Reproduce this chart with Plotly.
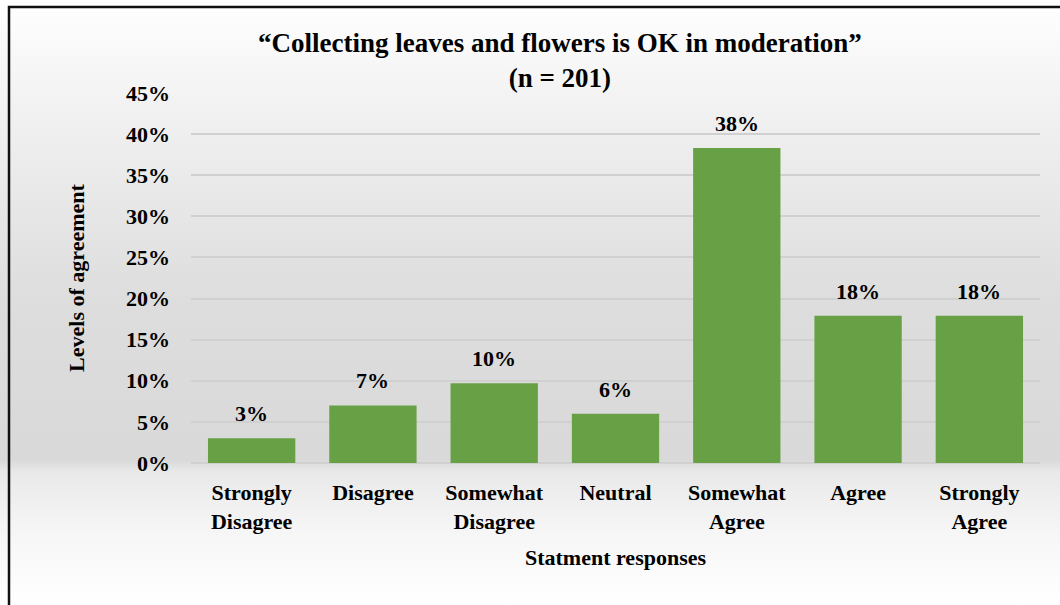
import base64
import plotly.graph_objects as go

# Survey responses (share of respondents, %)
categories = ["Strongly<br>Disagree", "Disagree", "Somewhat<br>Disagree", "Neutral",
              "Somewhat<br>Agree", "Agree", "Strongly<br>Agree"]
percentages = [3.0, 7.0, 9.7, 6.0, 38.3, 17.9, 17.9]
y_ticks = [0, 5, 10, 15, 20, 25, 30, 35, 40, 45]
y_tick_labels = [f"{t}%" for t in y_ticks]

W, H = 1060, 605
ML, MR, MT, MB = 191, 20, 93, 142
PW, PH = W - ML - MR, H - MT - MB

FONT = "Liberation Serif, Times New Roman, serif"
GREEN = "#68A045"
FS = 22

# Vertical grey gradient used as the chart-area background
svg = (
    '<svg xmlns="http://www.w3.org/2000/svg" width="100" height="605" preserveAspectRatio="none">'
    '<defs><linearGradient id="g" x1="0" y1="0" x2="0" y2="1">'
    '<stop offset="0" stop-color="#ffffff"/>'
    '<stop offset="0.17" stop-color="#f2f2f2"/>'
    '<stop offset="0.5" stop-color="#dddddd"/>'
    '<stop offset="0.76" stop-color="#d9d9d9"/>'
    '<stop offset="0.78" stop-color="#e9e9e9"/>'
    '<stop offset="0.88" stop-color="#f6f6f6"/>'
    '<stop offset="1" stop-color="#ffffff"/>'
    '</linearGradient></defs>'
    '<rect width="100" height="605" fill="url(#g)"/></svg>'
)
bg_uri = "data:image/svg+xml;base64," + base64.b64encode(svg.encode()).decode()

fig = go.Figure(
    go.Bar(
        x=categories,
        y=percentages,
        marker=dict(color=GREEN, line=dict(width=0)),
        width=0.72,
        cliponaxis=False,
    )
)

# value labels above each bar
annotations = [
    dict(
        x=cat,
        y=val,
        xref="x",
        yref="y",
        text=f"<b>{val:.0f}%</b>",
        showarrow=False,
        yanchor="bottom",
        yshift=10,
        font=dict(family=FONT, size=FS, color="#000000"),
    )
    for cat, val in zip(categories, percentages)
]

# chart title, positioned in plot-area fractions
annotations.append(
    dict(
        x=(560 - ML) / PW,
        y=1 + (MT - 26) / PH,
        xref="paper",
        yref="paper",
        text="<b>“Collecting leaves and flowers is OK in moderation”<br>(n = 201)</b>",
        showarrow=False,
        xanchor="center",
        yanchor="top",
        font=dict(family=FONT, size=27, color="#000000"),
    )
)

fig.update_layout(
    width=W,
    height=H,
    margin=dict(l=ML, r=MR, t=MT, b=MB),
    paper_bgcolor="#ffffff",
    plot_bgcolor="rgba(0,0,0,0)",
    showlegend=False,
    font=dict(family=FONT, color="#000000"),
    annotations=annotations,
    xaxis=dict(
        showgrid=False,
        showline=False,
        ticks="",
        tickfont=dict(family=FONT, size=FS, color="#000000"),
        ticklabelstandoff=14,
        title=dict(text="<b>Statment responses</b>", font=dict(family=FONT, size=FS), standoff=17),
        tickprefix="<b>",
        ticksuffix="</b>",
    ),
    yaxis=dict(
        range=[0, 45],
        tickvals=y_ticks,
        ticktext=[f"<b>{t}</b>" for t in y_tick_labels],
        tickfont=dict(family=FONT, size=FS, color="#000000"),
        showgrid=True,
        gridcolor="#d0d0d0",
        gridwidth=2,
        zeroline=True,
        zerolinecolor="#d0d0d0",
        zerolinewidth=2,
        ticks="",
        ticklabelstandoff=20,
        title=dict(text="<b>Levels of agreement</b>", font=dict(family=FONT, size=FS), standoff=35),
    ),
    images=[
        dict(
            source=bg_uri,
            xref="paper",
            yref="paper",
            x=-ML / PW,
            y=1 + MT / PH,
            sizex=W / PW,
            sizey=H / PH,
            xanchor="left",
            yanchor="top",
            sizing="stretch",
            layer="below",
        )
    ],
    shapes=[
        # chart-area border (runs off the right and bottom edges)
        dict(
            type="rect",
            xref="paper",
            yref="paper",
            x0=(9 - ML) / PW,
            x1=(W + 20 - ML) / PW,
            y0=-(MB + 20) / PH,
            y1=1 + (MT - 7) / PH,
            line=dict(color="#111111", width=2.5),
            fillcolor="rgba(0,0,0,0)",
            layer="above",
        )
    ],
)

fig.write_html("out.html")
